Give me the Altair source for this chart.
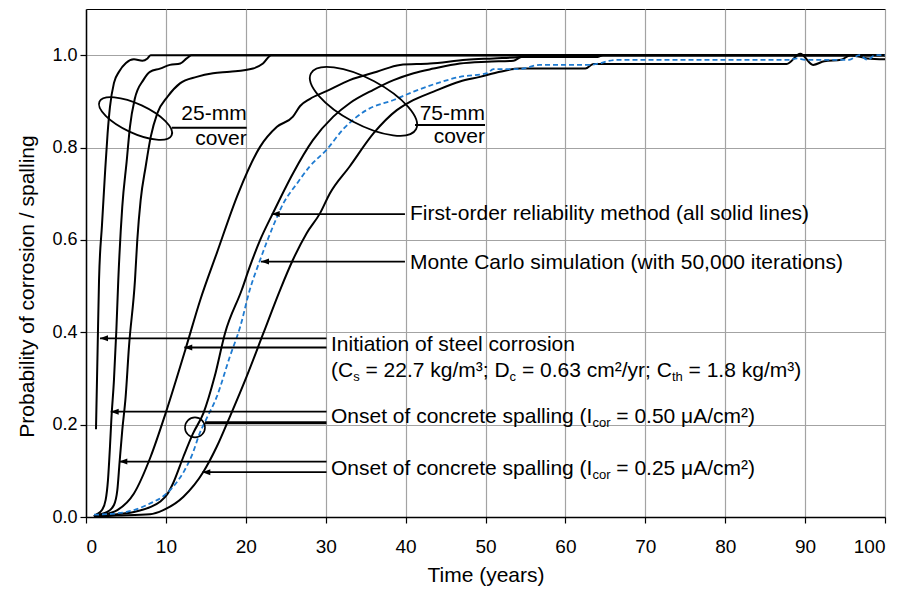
import altair as alt
import pandas as pd

# ---------------- curve data ----------------
# 25-mm cover, FORM
init25_t = [1.25, 1.45, 1.63, 2.0, 2.38, 2.7, 3.0, 3.5, 4.13, 5.0, 6.0, 7.05, 7.7, 8.1, 100]
init25_p = [0.19, 0.36, 0.513, 0.632, 0.745, 0.83, 0.888, 0.94, 0.964, 0.983, 0.991, 0.988, 0.993, 1.0, 1.0]

sp50_25_t = [1.0, 1.2, 2.0, 2.46, 2.75, 3.0, 3.17, 3.5, 3.8, 4.04, 4.54, 5.09, 5.5, 6.1, 7.17, 8.0, 9.26, 10.5, 11.8, 12.6, 13.2, 100]
sp50_25_p = [0.001, 0.004, 0.015, 0.037, 0.08, 0.152, 0.21, 0.297, 0.405, 0.513, 0.672, 0.77, 0.845, 0.905, 0.946, 0.964, 0.971, 0.979, 0.982, 0.993, 1.0, 1.0]

sp25_25_t = [1.0, 1.4, 2.67, 3.5, 3.92, 4.2, 4.54, 4.96, 5.38, 6.13, 6.42, 6.84, 7.47, 8.1, 8.92, 10.2, 11.76, 13.85, 15.9, 18.0, 20.9, 22.15, 23.2, 100]
sp25_25_p = [0.001, 0.004, 0.011, 0.026, 0.058, 0.118, 0.188, 0.26, 0.369, 0.513, 0.6, 0.686, 0.759, 0.823, 0.874, 0.91, 0.939, 0.953, 0.961, 0.964, 0.971, 0.982, 1.0, 1.0]

# 75-mm cover, FORM
init75_t = [1.0, 1.84, 3.92, 6.0, 8.1, 9.97, 12.48, 14.3, 16.36, 19.06, 21.8, 23.9, 25.9, 26.8, 28.0, 30.1, 33.0, 36.4, 39.3, 43.05, 47.6, 51.0, 54.3, 56.2, 100]
init75_p = [0.001, 0.004, 0.015, 0.051, 0.131, 0.225, 0.365, 0.47, 0.571, 0.701, 0.802, 0.845, 0.867, 0.89, 0.905, 0.922, 0.946, 0.964, 0.979, 0.982, 0.99, 0.993, 0.996, 1.0, 1.0]

sp50_75_t = [1.0, 3.9, 6.0, 8.1, 9.26, 10.2, 10.9, 12.2, 13.4, 14.7, 16.1, 17.4, 19.5, 20.5, 21.8, 23.4, 25.9, 28.4, 30.95, 33.0, 35.96, 38.5, 41.0, 43.5, 46.8, 50.2, 53.5, 54.5, 64.0, 64.7, 100]
sp50_75_p = [0.001, 0.006, 0.011, 0.022, 0.033, 0.05, 0.073, 0.131, 0.181, 0.225, 0.304, 0.398, 0.492, 0.542, 0.6, 0.658, 0.744, 0.816, 0.867, 0.896, 0.925, 0.946, 0.961, 0.971, 0.982, 0.986, 0.988, 0.996, 0.996, 1.0, 1.0]

sp25_75_t = [1.0, 3.9, 8.0, 9.67, 12.2, 14.7, 16.36, 18.0, 20.1, 22.2, 24.3, 25.9, 27.6, 29.3, 30.5, 33.0, 36.0, 38.9, 40.55, 43.5, 46.8, 49.3, 51.8, 54.3, 62.5, 63.5, 87.7, 89.4, 91.0, 92.4, 94.5, 95.7, 97.8, 100]
sp25_75_p = [0.001, 0.003, 0.006, 0.015, 0.044, 0.098, 0.152, 0.217, 0.304, 0.398, 0.492, 0.557, 0.614, 0.658, 0.7, 0.759, 0.831, 0.881, 0.899, 0.921, 0.943, 0.953, 0.964, 0.971, 0.971, 0.981, 0.981, 1.003, 0.979, 0.987, 0.99, 1.0, 0.993, 0.991]

# 75-mm cover, Monte Carlo (Icor = 0.50)
mc_t = [1.0, 3.9, 6.0, 8.1, 9.67, 11.76, 12.3, 13.4, 14.2, 15.0, 16.36, 18.0, 19.3, 20.5, 21.8, 23.4, 24.7, 26.4, 28.0, 30.1, 32.2, 35.1, 38.5, 41.0, 43.9, 46.8, 50.2, 51.0, 54.3, 56.8, 63.0, 66.5, 88.0, 89.0, 90.0, 95.5, 96.8, 97.8, 98.8, 100]
mc_p = [0.005, 0.008, 0.015, 0.03, 0.045, 0.085, 0.1, 0.14, 0.18, 0.21, 0.26, 0.347, 0.412, 0.492, 0.557, 0.629, 0.679, 0.722, 0.759, 0.795, 0.84, 0.881, 0.903, 0.921, 0.939, 0.953, 0.961, 0.97, 0.97, 0.979, 0.979, 0.99, 0.99, 0.993, 0.99, 0.99, 1.0, 0.99, 1.0, 1.0]

# ---------------- annotation data ----------------
arrow_tip_t = [23.24, 21.9, 1.75, 12.3, 3.09, 4.17, 14.56]
arrow_tail_t = [39.92, 39.92, 30.1, 30.1, 30.1, 30.1, 30.1]
arrow_p = [0.656, 0.553, 0.387, 0.367, 0.228, 0.120, 0.097]

thick_t = [14.9]
thick_t2 = [30.1]
thick_p = [0.204]
circle_t = [13.64]
circle_p = [0.194]

ell25_t, ell25_p = [6.2], [0.863]
ell75_t, ell75_p = [34.73], [0.900]

cover_line_t = [10.73, 41.18]
cover_line_t2 = [20.11, 49.94]
cover_line_p = [0.843, 0.849]
cover_txt_t = [20.11, 20.11, 49.94, 49.94]
cover_txt_p = [0.860, 0.806, 0.860, 0.809]
cover_txt = ["25-mm", "cover", "75-mm", "cover"]

plain_txt = ["First-order reliability method (all solid lines)",
             "Monte Carlo simulation (with 50,000 iterations)",
             "Initiation of steel corrosion"]
plain_t = [40.55, 40.55, 30.66]
plain_p = [0.643, 0.536, 0.360]

rich_lines = [
    [("(C", 0), ("s", 1), (" = 22.7 kg/m³; D", 0), ("c", 1), (" = 0.63 cm²/yr; C", 0), ("th", 1), (" = 1.8 kg/m³)", 0)],
    [("Onset of concrete spalling (I", 0), ("cor", 1), (" = 0.50 μA/cm²)", 0)],
    [("Onset of concrete spalling (I", 0), ("cor", 1), (" = 0.25 μA/cm²)", 0)],
]
rich_t = [30.66, 30.66, 30.66]
rich_p = [0.304, 0.203, 0.091]

# ---------------- build tables ----------------
curves = [("init25", init25_t, init25_p), ("sp50_25", sp50_25_t, sp50_25_p),
          ("sp25_25", sp25_25_t, sp25_25_p), ("init75", init75_t, init75_p),
          ("sp50_75", sp50_75_t, sp50_75_p), ("sp25_75", sp25_75_t, sp25_75_p)]
rows = []
for name, ts, ps in curves:
    for i, (t, p) in enumerate(zip(ts, ps)):
        rows.append({"series": name, "t": t, "p": p, "i": i})
form_df = pd.DataFrame(rows)
mc_df = pd.DataFrame({"t": mc_t, "p": mc_p, "i": list(range(len(mc_t)))})

FONT = "Liberation Sans"
FS = 21
SUB = 13
XS = alt.Scale(domain=[0, 100], nice=False, zero=False)
YS = alt.Scale(domain=[0, 1.1], nice=False)
GRID = "#a3a3a3"
XTITLE = "Time (years)"
YTITLE = "Probability of corrosion / spalling"

x_axis = alt.Axis(values=list(range(0, 101, 10)), grid=True, gridColor=GRID, gridWidth=1.2,
                  domainColor="black", domainWidth=1.5, tickColor="black", tickSize=6, tickWidth=1.2,
                  labelFont=FONT, labelFontSize=19, labelColor="black", labelPadding=14,
                  titleFont=FONT, titleFontSize=21, titleFontWeight="normal", titleColor="black",
                  titlePadding=8)
y_axis = alt.Axis(values=[0, 0.2, 0.4, 0.6, 0.8, 1.0], format=".1f", grid=True, gridColor=GRID,
                  gridWidth=1.2, domainColor="black", domainWidth=1.5, tickColor="black", tickSize=6,
                  tickWidth=1.2, labelFont=FONT, labelFontSize=18, labelColor="black", labelPadding=3,
                  titleFont=FONT, titleFontSize=21, titleFontWeight="normal", titleColor="black",
                  titlePadding=14, titleY=277)

def xe(field):
    return alt.X(field, type="quantitative", scale=XS, axis=x_axis, title=XTITLE)

def ye(field):
    return alt.Y(field, type="quantitative", scale=YS, axis=y_axis, title=YTITLE)

form = alt.Chart(form_df).mark_line(color="black", strokeWidth=2, interpolate="monotone").encode(
    x=xe("t"), y=ye("p"), detail="series:N", order="i:Q")

mc = alt.Chart(mc_df).mark_line(color="#1f7bd1", strokeWidth=1.8, strokeDash=[5, 3],
                                interpolate="monotone").encode(
    x=xe("t"), y=ye("p"), order="i:Q")

arrows_df = pd.DataFrame({"tip": arrow_tip_t, "tail": arrow_tail_t, "p": arrow_p})
arrow_lines = alt.Chart(arrows_df).mark_rule(color="black", strokeWidth=1.8).encode(
    x=xe("tip"), x2="tail:Q", y=ye("p"))
ARROW = "M 0 0 L 2 -0.75 L 2 0.75 Z"
arrow_heads = alt.Chart(arrows_df).mark_point(shape=ARROW, size=64, filled=True, color="black",
                                              opacity=1, strokeWidth=0).encode(x=xe("tip"), y=ye("p"))

thick_df = pd.DataFrame({"t": thick_t, "t2": thick_t2, "p": thick_p})
thick = alt.Chart(thick_df).mark_rule(color="black", strokeWidth=3).encode(
    x=xe("t"), x2="t2:Q", y=ye("p"))

circ = alt.Chart(pd.DataFrame({"t": circle_t, "p": circle_p})).mark_point(
    shape="circle", size=400, filled=False, color="black", strokeWidth=1.6, opacity=1).encode(
    x=xe("t"), y=ye("p"))

def ellipse_path(r):
    k = 0.5523
    return (f"M 1 0 C 1 {k*r:.4f} {k:.4f} {r:.4f} 0 {r:.4f} "
            f"C {-k:.4f} {r:.4f} -1 {k*r:.4f} -1 0 "
            f"C -1 {-k*r:.4f} {-k:.4f} {-r:.4f} 0 {-r:.4f} "
            f"C {k:.4f} {-r:.4f} 1 {-k*r:.4f} 1 0 Z")

ell25 = alt.Chart(pd.DataFrame({"t": ell25_t, "p": ell25_p})).mark_point(
    shape=ellipse_path(0.364), size=6336, angle=25, filled=False, color="black",
    strokeWidth=1.8, opacity=1).encode(x=xe("t"), y=ye("p"))
ell75 = alt.Chart(pd.DataFrame({"t": ell75_t, "p": ell75_p})).mark_point(
    shape=ellipse_path(0.382), size=14161, angle=28, filled=False, color="black",
    strokeWidth=1.8, opacity=1).encode(x=xe("t"), y=ye("p"))

cover_lines = alt.Chart(pd.DataFrame({"t": cover_line_t, "t2": cover_line_t2, "p": cover_line_p})).mark_rule(
    color="black", strokeWidth=2).encode(x=xe("t"), x2="t2:Q", y=ye("p"))
cover_text = alt.Chart(pd.DataFrame({"t": cover_txt_t, "p": cover_txt_p, "txt": cover_txt})).mark_text(
    align="right", baseline="alphabetic", font=FONT, fontSize=FS, color="black").encode(
    x=xe("t"), y=ye("p"), text="txt:N")

plain = alt.Chart(pd.DataFrame({"t": plain_t, "p": plain_p, "txt": plain_txt})).mark_text(
    align="left", baseline="alphabetic", font=FONT, fontSize=FS, color="black").encode(
    x=xe("t"), y=ye("p"), text="txt:N")

# Arial / Liberation Sans advance widths (per 1000 em)
W = {" ": 278, "(": 333, ")": 333, "C": 722, "D": 722, "I": 278, "A": 667, "O": 778, "=": 584,
     ".": 278, "/": 278, ";": 278, ",": 278, "k": 500, "g": 556, "m": 833, "s": 500, "c": 500,
     "y": 500, "r": 333, "t": 278, "h": 556, "e": 556, "n": 556, "f": 278, "o": 556, "p": 556,
     "a": 556, "l": 222, "i": 222, "μ": 576, "²": 333, "³": 333}
for d in "0123456789":
    W[d] = 556

def width(s, fs):
    return sum(W.get(ch, 556) for ch in s) * fs / 1000.0

rich_layers = []
for segs, t0, p0 in zip(rich_lines, rich_t, rich_p):
    x = 0.0
    for txt, sub in segs:
        fs = SUB if sub else FS
        stripped = txt.lstrip(" ")
        lead = width(txt[:len(txt) - len(stripped)], fs)
        layer = alt.Chart(pd.DataFrame({"t": [t0], "p": [p0], "txt": [stripped]})).mark_text(
            align="left", baseline="alphabetic", font=FONT, fontSize=fs, color="black",
            dx=x + lead, dy=4 if sub else 0).encode(x=xe("t"), y=ye("p"), text="txt:N")
        rich_layers.append(layer)
        x += width(txt, fs)

chart = alt.layer(form, mc, arrow_lines, arrow_heads, thick, circ, ell25, ell75, cover_lines,
                  cover_text, plain, *rich_layers).properties(
    width=799, height=508,
    autosize=alt.AutoSizeParams(type="none"),
    padding={"left": 86, "top": 9, "right": 22, "bottom": 75},
    background="white",
).configure_view(stroke="black", strokeWidth=1)

chart.save("out.html", embed_options={"renderer": "svg", "actions": False})
